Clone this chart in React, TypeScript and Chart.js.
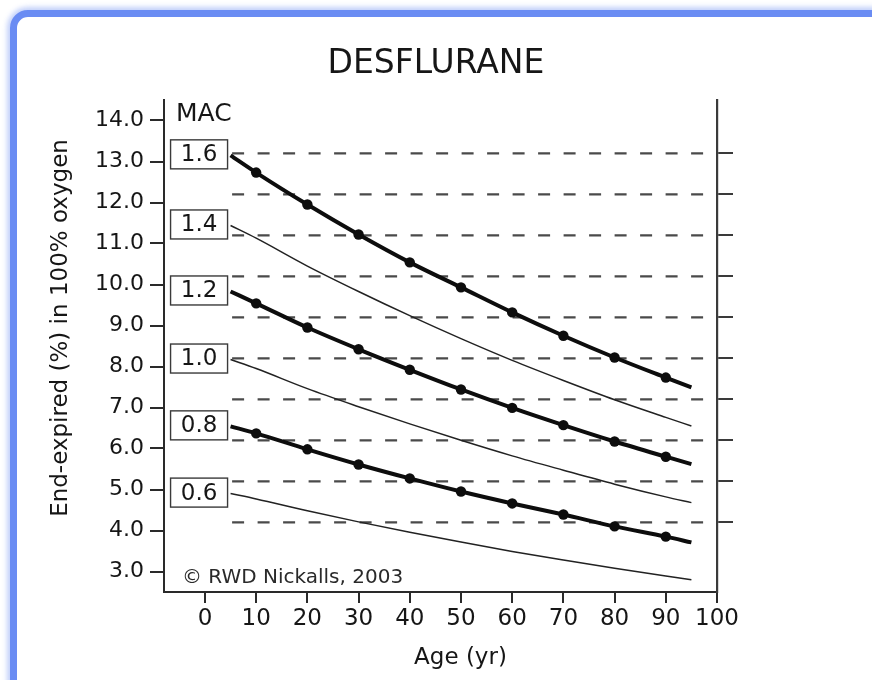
import React, { useEffect, useRef } from 'react';
import { Chart, registerables } from 'chart.js';

Chart.register(...registerables);

// ---- data ----
const ages = [5, 10, 20, 30, 40, 50, 60, 70, 80, 90, 95];
const dotAges = [10, 20, 30, 40, 50, 60, 70, 80, 90];

const mac16 = [13.15, 12.73, 11.95, 11.22, 10.54, 9.93, 9.32, 8.75, 8.22, 7.73, 7.49];
const mac14 = [11.44, 11.13, 10.45, 9.83, 9.24, 8.68, 8.15, 7.66, 7.19, 6.76, 6.55];
const mac12 = [9.83, 9.54, 8.95, 8.42, 7.92, 7.44, 6.99, 6.57, 6.17, 5.8, 5.62];
const mac10 = [8.17, 7.95, 7.46, 7.02, 6.6, 6.2, 5.82, 5.47, 5.13, 4.82, 4.68];
const mac08 = [6.54, 6.37, 5.98, 5.61, 5.27, 4.95, 4.66, 4.39, 4.1, 3.85, 3.71];
const mac06 = [4.9, 4.77, 4.48, 4.21, 3.96, 3.72, 3.49, 3.28, 3.08, 2.89, 2.8];

const macLabels = ['1.6', '1.4', '1.2', '1.0', '0.8', '0.6'];
const macSeries = [mac16, mac14, mac12, mac10, mac08, mac06];
const macThick = [true, false, true, false, true, false];

const dashLevels = [13.2, 12.2, 11.2, 10.2, 9.2, 8.2, 7.2, 6.2, 5.2, 4.2];
const dashAges = [5.3, 98];

const yTicks = [3, 4, 5, 6, 7, 8, 9, 10, 11, 12, 13, 14];
const xTicks = [0, 10, 20, 30, 40, 50, 60, 70, 80, 90, 100];

const FONT = '"DejaVu Sans", "Liberation Sans", Arial, sans-serif';
const INK = '#161616';

const labelPlugin = {
  id: 'macLabels',
  afterDatasetsDraw(chart: any) {
    const ctx = chart.ctx;
    const area = chart.chartArea;
    ctx.save();
    ctx.fillStyle = INK;
    ctx.textAlign = 'left';
    ctx.textBaseline = 'alphabetic';
    ctx.font = `25px ${FONT}`;
    ctx.fillText('MAC', area.left + 12, area.top + 21);
    ctx.font = `20px ${FONT}`;
    ctx.fillStyle = '#2a2a2a';
    ctx.fillText('\u00A9 RWD Nickalls, 2003', area.left + 18, area.bottom - 9);

    // axis titles, placed as in the original
    ctx.font = `23px ${FONT}`;
    ctx.fillStyle = INK;
    ctx.textAlign = 'center';
    ctx.textBaseline = 'middle';
    ctx.fillText('Age (yr)', (area.left + area.right) / 2 + 20, area.bottom + 66);
    ctx.save();
    ctx.translate(area.left - 103, (area.top + area.bottom) / 2 - 18);
    ctx.rotate(-Math.PI / 2);
    ctx.fillText('End-expired (%) in 100% oxygen', 0, 0);
    ctx.restore();

    chart.data.datasets.forEach((ds: any, i: number) => {
      if (ds.isDash) return;
      const meta = chart.getDatasetMeta(i);
      const p = meta.data[0];
      if (!p) return;
      const w = 57;
      const h = 29;
      const right = p.x - 3;
      const cy = p.y - 1;
      ctx.fillStyle = '#fff';
      ctx.fillRect(right - w, cy - h / 2, w, h);
      ctx.strokeStyle = '#3a3a3a';
      ctx.lineWidth = 1.4;
      ctx.strokeRect(right - w, cy - h / 2, w, h);
      ctx.fillStyle = INK;
      ctx.font = `23px ${FONT}`;
      ctx.textAlign = 'center';
      ctx.textBaseline = 'middle';
      ctx.fillText(ds.label, right - w / 2, cy + 1);
    });
    ctx.restore();
  },
};

export default function App() {
  const canvasRef = useRef<HTMLCanvasElement | null>(null);

  useEffect(() => {
    if (!canvasRef.current) return;

    const curveSets = macLabels.map((lab, i) => {
      const thick = macThick[i];
      return {
        label: lab,
        data: ages.map((a, j) => ({ x: a, y: macSeries[i][j] })),
        borderColor: thick ? '#0d0d0d' : '#222',
        backgroundColor: '#0d0d0d',
        borderWidth: thick ? 4 : 1.5,
        pointRadius: thick
          ? ages.map((a) => (dotAges.includes(a) ? 5.2 : 0))
          : 0,
        pointBorderWidth: 0,
        pointBackgroundColor: '#0d0d0d',
        cubicInterpolationMode: 'monotone',
        fill: false,
        order: 0,
      };
    });

    const dashSets = dashLevels.map((lv) => ({
      label: '',
      isDash: true,
      data: dashAges.map((a) => ({ x: a, y: lv })),
      borderColor: '#4a4a4a',
      borderWidth: 2.2,
      borderDash: [12, 13.5],
      pointRadius: 0,
      fill: false,
      order: 5,
    }));

    const chart = new Chart(canvasRef.current, {
      type: 'line',
      data: { datasets: [...curveSets, ...dashSets] as any },
      plugins: [labelPlugin],
      options: {
        animation: false,
        responsive: false,
        layout: { padding: 0 },
        plugins: {
          legend: { display: false },
          tooltip: { enabled: false },
          title: {
            display: true,
            text: 'DESFLURANE',
            color: INK,
            font: { family: FONT, size: 33, weight: 'normal' },
            padding: { top: 45, bottom: 15.4 },
          },
        },
        scales: {
          x: {
            type: 'linear',
            min: -8,
            max: 100,
            afterBuildTicks: (s: any) => {
              s.ticks = xTicks.map((v) => ({ value: v }));
            },
            afterFit: (s: any) => {
              s.height = 88;
            },
            grid: {
              drawOnChartArea: false,
              drawTicks: true,
              tickLength: 11,
              color: '#2a2a2a',
              lineWidth: 2,
            },
            border: { display: true, color: '#2a2a2a', width: 2 },
            ticks: {
              color: INK,
              font: { family: FONT, size: 23 },
              padding: 2,
              maxRotation: 0,
              autoSkip: false,
            },
          },
          y: {
            type: 'linear',
            position: 'left',
            min: 2.5,
            max: 14.5,
            afterBuildTicks: (s: any) => {
              s.ticks = yTicks.map((v) => ({ value: v }));
            },
            afterFit: (s: any) => {
              s.width = 164;
            },
            grid: {
              drawOnChartArea: false,
              drawTicks: true,
              tickLength: 14,
              color: '#2a2a2a',
              lineWidth: 2,
            },
            border: { display: true, color: '#2a2a2a', width: 2 },
            ticks: {
              color: INK,
              font: { family: FONT, size: 22 },
              padding: 6,
              autoSkip: false,
              callback: (v: any) => Number(v).toFixed(1),
            },
          },
          y2: {
            type: 'linear',
            position: 'right',
            min: 2.5,
            max: 14.5,
            afterBuildTicks: (s: any) => {
              s.ticks = dashLevels.map((v) => ({ value: v }));
            },
            afterFit: (s: any) => {
              s.width = 155;
            },
            grid: {
              drawOnChartArea: false,
              drawTicks: true,
              tickLength: 16,
              color: '#3a3a3a',
              lineWidth: 2,
            },
            border: { display: true, color: '#3a3a3a', width: 2.2 },
            ticks: { display: false },
          },
        },
      } as any,
    });

    return () => chart.destroy();
  }, []);

  return (
    <div
      style={{
        position: 'fixed',
        left: 0,
        top: 0,
        width: 872,
        height: 680,
        overflow: 'hidden',
        background: '#fff',
      }}
    >
      <div
        style={{
          position: 'absolute',
          left: 10,
          top: 10,
          width: 900,
          height: 720,
          boxSizing: 'border-box',
          border: '7px solid #6a8cf3',
          borderRadius: 18,
          boxShadow: '0 0 5px 3px rgba(120,150,245,0.45)',
          background: '#fff',
        }}
      />
      <canvas
        ref={canvasRef}
        width={872}
        height={680}
        style={{ position: 'absolute', left: 0, top: 0, width: 872, height: 680 }}
      />
    </div>
  );
}
